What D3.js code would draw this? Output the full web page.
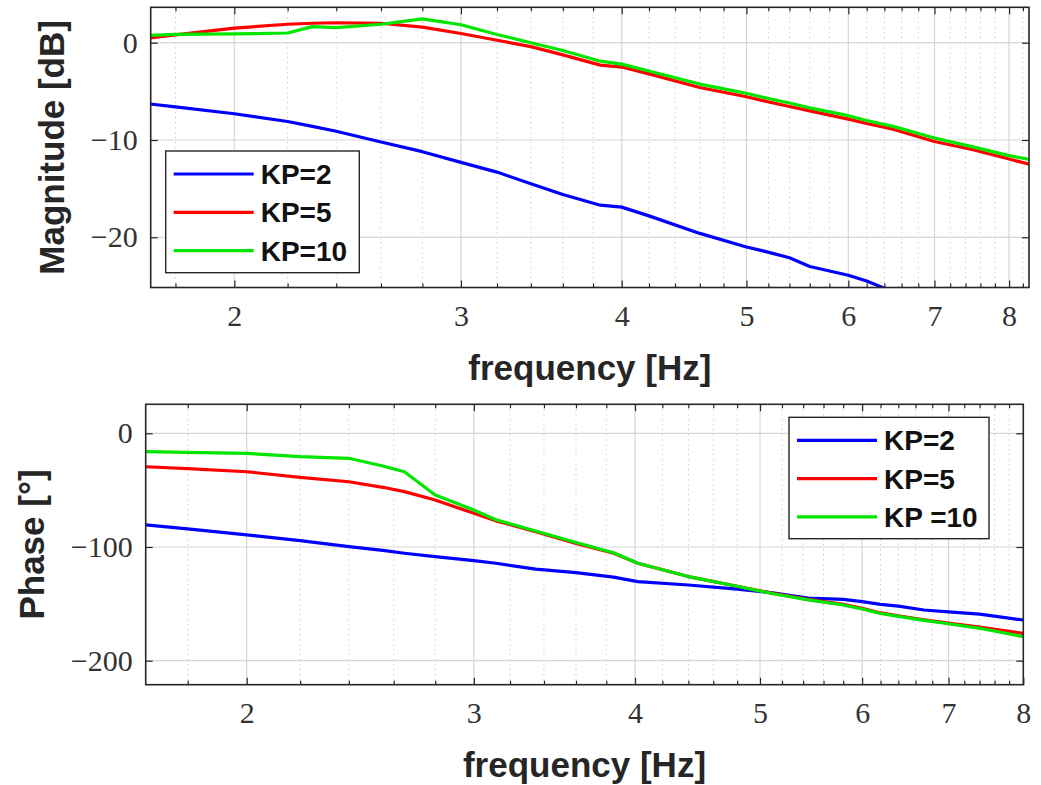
<!DOCTYPE html>
<html>
<head>
<meta charset="utf-8">
<script src="https://cdn.jsdelivr.net/npm/d3@7"></script>
<style>
body { margin: 0; background: #fff; }
svg { display: block; }
.tick text { font-family: "Liberation Serif", "DejaVu Serif", serif; font-size: 30px; fill: #333; }
.tick line { stroke: #262626; stroke-width: 1.2; }
.lbl { font-family: "Liberation Sans", Arial, sans-serif; font-weight: bold; font-size: 35px; fill: #262626; }
.leg { font-family: "Liberation Sans", Arial, sans-serif; font-weight: bold; font-size: 28px; fill: #111; }
</style>
</head>
<body>
<svg id="chart" width="1041" height="785"></svg>
<script>
// magnitude plot
var freqMag = [1.72, 1.8, 2.0, 2.2, 2.3, 2.4, 2.6, 2.8, 3.0, 3.2, 3.4, 3.6, 3.85, 4.0, 4.2, 4.6, 5.0, 5.15, 5.4, 5.6, 6.0, 6.2, 6.5, 7.0, 7.5, 8.0, 8.3];
var magKP2 = [-6.3, -6.6, -7.3, -8.1, -8.6, -9.1, -10.2, -11.2, -12.3, -13.3, -14.5, -15.6, -16.7, -16.9, -17.8, -19.6, -21.0, -21.4, -22.1, -23.0, -23.9, -24.5, -25.6, null, null, null, null];
var magKP5 = [0.5, 0.8, 1.5, 1.9, 2.0, 2.05, 2.0, 1.6, 0.95, 0.25, -0.4, -1.25, -2.3, -2.5, -3.2, -4.6, -5.55, -5.95, -6.55, -7.0, -7.85, -8.3, -8.9, -10.15, -11.0, -11.95, -12.5];
var magKP10 = [0.75, 0.85, 0.9, 1.0, 1.65, 1.55, 1.9, 2.45, 1.85, 0.85, 0.0, -0.8, -1.9, -2.2, -2.9, -4.25, -5.2, -5.6, -6.2, -6.7, -7.5, -8.0, -8.6, -9.8, -10.7, -11.6, -12.0];

// phase plot
var freqPh = [1.67, 1.8, 2.0, 2.2, 2.4, 2.55, 2.65, 2.8, 3.0, 3.12, 3.35, 3.6, 3.85, 4.02, 4.4, 4.8, 5.13, 5.45, 5.8, 6.0, 6.2, 6.4, 6.7, 7.0, 7.4, 8.0];
var phKP2 = [-80.6, -84, -89.4, -94.4, -99.7, -103, -105.5, -108.5, -112, -114.3, -119.5, -122.5, -126.5, -130.5, -133.4, -137, -140.5, -145, -146, -148.1, -150.5, -152, -155.4, -157, -159, -164.2];
var phKP5 = [-29.4, -31, -33.8, -38.7, -42.6, -47.5, -51.3, -58.7, -70.4, -77, -86.5, -96.8, -105.5, -114.3, -126, -134.5, -141, -146, -150.5, -153.9, -158, -160.5, -164, -167, -170.5, -175.9];
var phKP10 = [-16.2, -16.8, -17.6, -20.6, -22, -28.8, -33.8, -54.3, -67.5, -76, -86, -96, -105, -114.3, -126, -134.5, -141.3, -146.5, -151, -154.5, -158.5, -161, -164.5, -167.5, -171.5, -178.9];

var xMajor = [2, 3, 4, 5, 6, 7, 8];
var magTicks = [-20, -10, 0];
var phTicks = [-200, -100, 0];
var colors = ["#0000ff", "#ff0000", "#00e600"];
var namesMag = ["KP=2", "KP=5", "KP=10"];
var namesPh = ["KP=2", "KP=5", "KP =10"];

var svg = d3.select("#chart");

function minorVals(lo, hi) {
    var out = [];
    for (var k = 9; k <= 41; k++) {
        var v = k / 5;
        if (k % 5 != 0 && v > lo && v < hi) out.push(v);
    }
    return out;
}

function fmt(d) { return d < 0 ? "\u2212" + Math.abs(d) : "" + d; }

function panel(o) {
    var x = d3.scaleLog().domain(o.xdom).range([o.left, o.right]);
    var y = d3.scaleLinear().domain(o.ydom).range([o.bottom, o.top]);
    var g = svg.append("g");
    var minors = minorVals(o.xdom[0], o.xdom[1]);

    // grid
    g.selectAll(".gmin").data(minors).enter().append("line")
        .attr("x1", x).attr("x2", x).attr("y1", o.top).attr("y2", o.bottom)
        .attr("stroke", "#b8b8b8").attr("stroke-width", 1).attr("stroke-dasharray", "1,4");
    g.selectAll(".gmaj").data(xMajor.filter(function(d){ return d < o.xdom[1]; })).enter().append("line")
        .attr("x1", x).attr("x2", x).attr("y1", o.top).attr("y2", o.bottom)
        .attr("stroke", "#d6d6d6").attr("stroke-width", 1.2);
    g.selectAll(".gy").data(o.yticks).enter().append("line")
        .attr("x1", o.left).attr("x2", o.right).attr("y1", y).attr("y2", y)
        .attr("stroke", "#d6d6d6").attr("stroke-width", 1.2);

    // curves
    var cid = "clip" + o.id;
    svg.append("clipPath").attr("id", cid).append("rect")
        .attr("x", o.left).attr("y", o.top).attr("width", o.right - o.left).attr("height", o.bottom - o.top);
    var line = d3.line()
        .defined(function(d){ return d[1] != null; })
        .x(function(d){ return x(d[0]); })
        .y(function(d){ return y(d[1]); });
    o.series.forEach(function(s, i) {
        var pts = o.freq.map(function(f, j){ return [f, s[j]]; });
        g.append("path").attr("d", line(pts)).attr("clip-path", "url(#" + cid + ")")
            .attr("fill", "none").attr("stroke", colors[i]).attr("stroke-width", 3.2)
            .attr("stroke-linejoin", "round");
    });

    // axes, ticks pointing inward
    var xb = g.append("g").attr("transform", "translate(0," + o.bottom + ")")
        .call(d3.axisBottom(x).tickValues(xMajor).tickFormat(d3.format("d")).tickSize(-7).tickPadding(17));
    g.append("g").attr("transform", "translate(0," + o.bottom + ")")
        .call(d3.axisBottom(x).tickValues(minors).tickFormat("").tickSize(-4));
    g.append("g").attr("transform", "translate(0," + o.top + ")")
        .call(d3.axisTop(x).tickValues(xMajor.filter(function(d){ return d < o.xdom[1]; })).tickFormat("").tickSize(-7));
    g.append("g").attr("transform", "translate(0," + o.top + ")")
        .call(d3.axisTop(x).tickValues(minors).tickFormat("").tickSize(-4));
    g.append("g").attr("transform", "translate(" + o.left + ",0)")
        .call(d3.axisLeft(y).tickValues(o.yticks).tickFormat(fmt).tickSize(-7).tickPadding(13));
    g.append("g").attr("transform", "translate(" + o.right + ",0)")
        .call(d3.axisRight(y).tickValues(o.yticks).tickFormat("").tickSize(-7));
    g.selectAll(".domain").remove();
    xb.selectAll(".tick").filter(function(d){ return d > o.xdom[1]; }).remove();

    g.append("rect").attr("x", o.left).attr("y", o.top)
        .attr("width", o.right - o.left).attr("height", o.bottom - o.top)
        .attr("fill", "none").attr("stroke", "#262626").attr("stroke-width", 1.6);

    // labels
    g.append("text").attr("class", "lbl").attr("text-anchor", "middle")
        .attr("x", (o.left + o.right) / 2).attr("y", o.bottom + 92.5)
        .text("frequency [Hz]");
    g.append("text").attr("class", "lbl").attr("text-anchor", "middle")
        .attr("transform", "translate(" + o.ylabX + "," + (o.top + o.bottom) / 2 + ") rotate(-90)")
        .text(o.ylabel);

    // legend
    var L = o.legend;
    var lg = g.append("g");
    lg.append("rect").attr("x", L.x).attr("y", L.y).attr("width", L.w).attr("height", L.h)
        .attr("fill", "#fff").attr("stroke", "#262626").attr("stroke-width", 1.4);
    o.names.forEach(function(n, i) {
        var ly = L.y + 23 + i * 38.3;
        lg.append("line").attr("x1", L.x + 8).attr("x2", L.x + 88).attr("y1", ly).attr("y2", ly)
            .attr("stroke", colors[i]).attr("stroke-width", 3.2);
        lg.append("text").attr("class", "leg").attr("x", L.x + 95).attr("y", ly).attr("dy", "0.36em")
            .attr("xml:space", "preserve").style("white-space", "pre").text(n);
    });
}

panel({
    id: "mag", left: 150.7, right: 1029, top: 7.3, bottom: 287.5,
    xdom: [1.722, 8.29], ydom: [-25.16, 3.64], yticks: magTicks,
    freq: freqMag, series: [magKP2, magKP5, magKP10],
    ylabel: "Magnitude [dB]", ylabX: 64,
    names: namesMag, legend: {x: 165.7, y: 151, w: 193.6, h: 121.7}
});

panel({
    id: "ph", left: 145.7, right: 1023.3, top: 404.3, bottom: 684.7,
    xdom: [1.67, 8.0], ydom: [-221.1, 25.5], yticks: phTicks,
    freq: freqPh, series: [phKP2, phKP5, phKP10],
    ylabel: "Phase [°]", ylabX: 44,
    names: namesPh, legend: {x: 789, y: 417.3, w: 200, h: 121.4}
});
</script>
</body>
</html>
